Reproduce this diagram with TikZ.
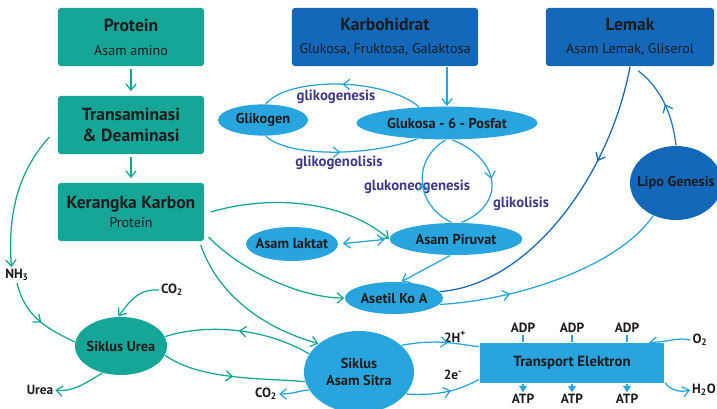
\documentclass[tikz,border=0pt]{standalone}
\usepackage{fontspec}
\setmainfont{PT Sans}
\usetikzlibrary{arrows.meta,decorations.markings,shapes.geometric}
\definecolor{tealc}{RGB}{22,166,152}
\definecolor{dblue}{RGB}{20,104,186}
\definecolor{lblue}{RGB}{40,165,222}
\definecolor{mblue}{RGB}{30,120,200}
\definecolor{lpurple}{RGB}{62,56,140}
\definecolor{txt}{RGB}{28,28,28}
\newcommand{\boxhead}{\fontsize{12.5}{14}\selectfont\bfseries}
\newcommand{\boxsub}{\fontsize{10}{12}\selectfont}

\begin{document}
\begin{tikzpicture}[x=0.025cm, y=-0.025cm, line width=0.9pt,
  tbox/.style={fill=tealc, rounded corners=2pt, minimum width=3.65cm, minimum height=1.45cm, align=center, text=txt},
  bbox/.style={fill=dblue, rounded corners=2pt, minimum height=1.45cm, align=center, text=txt},
  ell/.style={ellipse, fill=lblue, inner sep=0pt, align=center, text=txt, font=\fontsize{10.2}{12}\selectfont\bfseries},
  lab/.style={text=lpurple, inner sep=1pt, font=\fontsize{10.5}{12}\selectfont\bfseries},
  small/.style={text=txt, inner sep=1pt, font=\fontsize{9.5}{11}\selectfont\bfseries},
  tline/.style={draw=tealc},
  bline/.style={draw=lblue},
  tip/.style={-{Straight Barb[length=1.6mm,width=2.6mm]}},
  midarr/.style={postaction={decorate}, decoration={markings, mark=at position #1 with {\arrow{Straight Barb[length=1.6mm,width=2.6mm]}}}}]
\useasboundingbox (0,0) rectangle (717,408);

% boxes
\node[tbox] (protein) at (131,37) {{\boxhead Protein}\\[5pt]{\boxsub Asam amino}};
\node[tbox] (trans) at (131,125) {\boxhead Transaminasi\\[3pt]\boxhead \& Deaminasi};
\node[tbox] (kerangka) at (131,212) {{\boxhead Kerangka Karbon}\\[1pt]{\boxsub Protein}};
\node[bbox, minimum width=4.65cm] (karbo) at (385,37) {{\boxhead Karbohidrat}\\[4pt]{\boxsub Glukosa, Fruktosa, Galaktosa}};
\node[bbox, minimum width=4.2cm] (lemak) at (630,37) {{\boxhead Lemak}\\[4pt]{\boxsub Asam Lemak, Gliserol}};
\node[fill=lblue, minimum width=4.62cm, minimum height=1cm, text=txt, font=\fontsize{10.5}{12}\selectfont\bfseries] (te) at (572,363) {Transport Elektron};

% ellipses
\node[ell, minimum width=2.25cm, minimum height=0.78cm] (glikogen) at (263,120) {Glikogen};
\node[ell, minimum width=4.52cm, minimum height=0.82cm] (g6p) at (447,123) {Glukosa - 6 - Posfat};
\node[ell, minimum width=2.3cm, minimum height=0.85cm] (laktat) at (292,244) {\makebox[0pt]{Asam laktat}};
\node[ell, minimum width=3.32cm, minimum height=0.8cm] (piruvat) at (456,239) {Asam Piruvat};
\node[ell, minimum width=2.45cm, minimum height=0.8cm] (asetil) at (394,298) {\makebox[0pt]{Asetil Ko A}};
\node[ell, fill=tealc, minimum width=2.3cm, minimum height=1.45cm] (urea) at (121,346) {\makebox[0pt]{Siklus Urea}};
\node[ell, minimum width=2.75cm, minimum height=2.05cm] (sitra) at (359,372) {Siklus\\Asam Sitra};
\node[ell, fill=dblue, minimum width=2.3cm, minimum height=1.85cm] (lipo) at (676,183) {\makebox[0pt]{Lipo Genesis}};

% labels
\node[lab] (lgenesis) at (336,97) {glikogenesis};
\node[lab] (llisis) at (339,163) {glikogenolisis};
\node[lab] (lneo) at (417,187) {glukoneogenesis};
\node[lab] (lglik) at (521,204) {glikolisis};
\node[small] (nh3) at (17,275) {NH\textsubscript{3}};
\node[small] (co2a) at (172,290) {CO\textsubscript{2}};
\node[small] (urealbl) at (40,390) {Urea};
\node[small] (co2b) at (266,394) {CO\textsubscript{2}};
\node[small] (h2p) at (455,337) {2H\textsuperscript{+}};
\node[small] (e2) at (453,375) {2e\textsuperscript{-}};
\node[small] (o2) at (700,340) {O\textsubscript{2}};
\node[small] (h2o) at (704,390) {H\textsubscript{2}O};
\foreach \i/\px in {1/523,2/572,3/627} {
  \node[small] (adp\i) at (\px,328) {ADP};
  \node[small] (atp\i) at (\px,399) {ATP};
  \draw[bline] (adp\i.south) -- (adp\i.south |- te.north);
  \draw[bline, -{Triangle[length=1.6mm,width=2mm]}] (atp\i.north |- te.south) -- (atp\i.north);
}

% protein path
\draw[tline, tip, shorten <=2pt, shorten >=3pt] (protein) -- (trans);
\draw[tline, tip, shorten <=2pt, shorten >=3pt] (trans) -- (kerangka);
\draw[tline, tip] (trans.west) ++(-8,12) .. controls (15,175) and (8,220) .. (nh3.125);
\draw[tline, midarr=0.55] (nh3.south) .. controls (25,318) and (50,330) .. (urea.175);
\draw[tline, tip] (co2a.west) .. controls (142,289) and (133,296) .. (urea.95);
\draw[tline, tip] (urea.235) .. controls (82,386) and (70,392) .. (urealbl.east);
\draw[tline, midarr=0.5] (sitra.160) .. controls (260,325) and (200,325) .. (urea.12);
\draw[tline, midarr=0.5] (urea.-12) .. controls (200,380) and (260,378) .. (sitra.190);
\draw[tline, tip] (kerangka.east) ++(6,0) .. controls (280,192) and (350,205) .. (piruvat.west);
\draw[tline, tip] (kerangka.east) ++(4,25) .. controls (240,270) and (300,298) .. (asetil.west);
\draw[tline, tip] (kerangka.east) ++(-4,33) .. controls (220,300) and (270,330) .. (sitra.145);

% carbohydrate path
\draw[bline, tip] (g6p.north |- karbo.south) -- (g6p.north);
\draw[bline, midarr=0.5] (g6p.150) .. controls (385,78) and (290,76) .. (glikogen.80);
\draw[bline, midarr=0.5] (glikogen.-80) .. controls (290,158) and (370,156) .. (g6p.208);
\draw[bline, midarr=0.5] (piruvat.105) .. controls (415,205) and (412,160) .. (g6p.265);
\draw[bline, midarr=0.5] (g6p.-72) .. controls (502,160) and (505,205) .. (piruvat.72);
\draw[bline, {Straight Barb[length=1.6mm,width=2.6mm]}-{Straight Barb[length=1.6mm,width=2.6mm]}, shorten <=3pt, shorten >=3pt] (laktat.east) -- (piruvat.west);
\draw[bline, tip] (piruvat.250) -- (asetil.65);

% fat path
\draw[draw=dblue, midarr=0.32] (lemak.south) .. controls (610,175) and (530,285) .. (asetil.8);
\draw[bline, midarr=0.3] (asetil.-8) .. controls (520,300) and (620,265) .. (lipo.235);
\draw[draw=mblue, midarr=0.5] (lipo.north) .. controls (672,112) and (660,88) .. ([xshift=6pt,yshift=-3pt]lemak.south);

% citric acid cycle to electron transport
\draw[bline, tip] (sitra.200) .. controls (300,390) and (295,394) .. (co2b.east);
\draw[bline, midarr=0.6] (sitra.32) .. controls (440,338) and (460,345) .. (te.170);
\draw[bline, midarr=0.6] (sitra.-25) .. controls (440,396) and (460,390) .. (te.190);
\draw[bline, tip] (o2.west) .. controls (676,337) and (670,342) .. (te.15);
\draw[bline, tip] (te.-12) .. controls (672,392) and (682,392) .. (h2o.west);
\end{tikzpicture}
\end{document}
